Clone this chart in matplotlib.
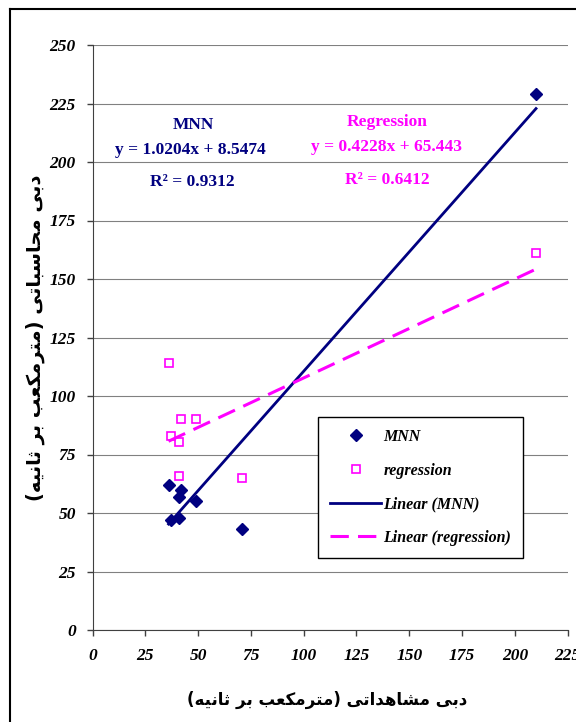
import numpy as np
import matplotlib
matplotlib.use("Agg")
import matplotlib.pyplot as plt
from matplotlib.lines import Line2D

# observed discharge (x) and computed discharge for each model
observed = [36, 37, 41, 41, 42, 49, 71, 210]
mnn = [62, 47, 57, 48, 60, 55, 43, 229]
regression = [114, 83, 80.5, 66, 90, 90, 65, 161]

# trendline coefficients as printed on the chart
mnn_fit = (1.0204, 8.5474, 0.9312)
reg_fit = (0.4228, 65.443, 0.6412)

xticks = list(range(0, 226, 25))
yticks = list(range(0, 251, 25))

xlabel_fa = "دبی مشاهداتی (مترمکعب بر ثانیه)"
ylabel_fa = "دبی محاسباتی (مترمکعب بر ثانیه)"

NAVY = "#000080"
MAGENTA = "#FF00FF"

# tiny arabic-script shaper: matplotlib does no joining / bidi by itself
FORMS = {
    'ا': ('\uFE8D', '\uFE8E'),
    'د': ('\uFEA9', '\uFEAA'),
    'ر': ('\uFEAD', '\uFEAE'),
    'ب': ('\uFE8F', '\uFE90', '\uFE91', '\uFE92'),
    'ت': ('\uFE95', '\uFE96', '\uFE97', '\uFE98'),
    'ث': ('\uFE99', '\uFE9A', '\uFE9B', '\uFE9C'),
    'ح': ('\uFEA1', '\uFEA2', '\uFEA3', '\uFEA4'),
    'س': ('\uFEB1', '\uFEB2', '\uFEB3', '\uFEB4'),
    'ش': ('\uFEB5', '\uFEB6', '\uFEB7', '\uFEB8'),
    'ع': ('\uFEC9', '\uFECA', '\uFECB', '\uFECC'),
    'م': ('\uFEE1', '\uFEE2', '\uFEE3', '\uFEE4'),
    'ن': ('\uFEE5', '\uFEE6', '\uFEE7', '\uFEE8'),
    'ه': ('\uFEE9', '\uFEEA', '\uFEEB', '\uFEEC'),
    'ی': ('\uFBFC', '\uFBFD', '\uFBFE', '\uFBFF'),
    'ک': ('\uFB8E', '\uFB8F', '\uFB90', '\uFB91'),
}


def shape(s):
    out = []
    for i, c in enumerate(s):
        if c not in FORMS:
            out.append(c)
            continue
        prev = s[i - 1] if i > 0 else None
        nxt = s[i + 1] if i + 1 < len(s) else None
        f = FORMS[c]
        jp = prev in FORMS and len(FORMS[prev]) == 4
        jn = len(f) == 4 and nxt in FORMS
        if jp and jn:
            out.append(f[3])
        elif jp:
            out.append(f[1])
        elif jn:
            out.append(f[2])
        else:
            out.append(f[0])
    vis = "".join(out)[::-1]
    return vis.translate(str.maketrans("()", ")("))


plt.rcParams['font.family'] = 'Liberation Serif'

fig = plt.figure(figsize=(5.76, 7.22), dpi=100)
W, H = 576, 722
ax = fig.add_axes([92.5 / W, 1 - 630 / H, 475.2 / W, 585 / H])

# outer frame (only left and top edges are visible in the crop)
fig.add_artist(Line2D([10 / W, 10 / W], [1 - 9 / H, 0], color='black', lw=1.5))
fig.add_artist(Line2D([10 / W, 1], [1 - 9 / H, 1 - 9 / H], color='black', lw=1.5))

ax.plot(observed, mnn, 'D', color=NAVY, ms=6, label='MNN', zorder=3)
ax.plot(observed, regression, 's', mfc='none', mec=MAGENTA, mew=1.2, ms=5.5,
        label='regression', zorder=3)

xs = np.array([min(observed), max(observed)])
ax.plot(xs, mnn_fit[0] * xs + mnn_fit[1], color=NAVY, lw=2,
        label='Linear (MNN)', zorder=2)
ax.plot(xs, reg_fit[0] * xs + reg_fit[1], color=MAGENTA, lw=2.2,
        dashes=(6, 3), label='Linear (regression)', zorder=2)

ax.set_xlim(0, 225)
ax.set_ylim(0, 250)
ax.set_xticks(xticks)
ax.set_yticks(yticks)
ax.yaxis.grid(True, color='#808080', lw=0.8)
ax.set_axisbelow(True)
for s in ['top', 'right']:
    ax.spines[s].set_visible(False)
ax.spines['left'].set_color('#404040')
ax.spines['bottom'].set_color('#404040')
ax.tick_params(direction='out', length=4, width=1, color='#404040')
ax.tick_params(axis='y', pad=8)
ax.tick_params(axis='x', pad=9)
for lbl in ax.get_xticklabels() + ax.get_yticklabels():
    lbl.set_fontsize(12.5)
    lbl.set_fontweight('bold')
    lbl.set_fontstyle('italic')

ann = dict(ha='center', va='center', fontsize=12.5, fontweight='bold')
ax.text(47.6, 215.8, 'MNN', color=NAVY, **ann)
ax.text(46.2, 205.1, 'y = %.4fx + %.4f' % (mnn_fit[0], mnn_fit[1]), color=NAVY, **ann)
ax.text(47.1, 191.5, 'R² = %.4f' % mnn_fit[2], color=NAVY, **ann)
ax.text(139.4, 217.1, 'Regression', color=MAGENTA, **ann)
ax.text(139.4, 206.4, 'y = %.4fx + %.3f' % (reg_fit[0], reg_fit[1]), color=MAGENTA, **ann)
ax.text(139.4, 192.3, 'R² = %.4f' % reg_fit[2], color=MAGENTA, **ann)

leg = ax.legend(loc='upper left', bbox_to_anchor=(0.4745, 0.364),
                borderaxespad=0, frameon=True, fancybox=False, framealpha=1,
                edgecolor='black', handlelength=3.2, handletextpad=0.15,
                labelspacing=1.1, borderpad=0.75,
                prop=dict(family='Liberation Serif', weight='bold',
                          style='italic', size=11.5))
leg.get_frame().set_linewidth(1.0)

fig.text(327 / W, 1 - 700 / H, shape(xlabel_fa), ha='center', va='center',
         family=['DejaVu Sans'], fontweight='bold', fontsize=12)
fig.text(35 / W, 1 - 338 / H, shape(ylabel_fa), ha='center', va='center',
         rotation=90, family=['DejaVu Sans'], fontweight='bold', fontsize=14)

fig.savefig('out.png', dpi=100)
